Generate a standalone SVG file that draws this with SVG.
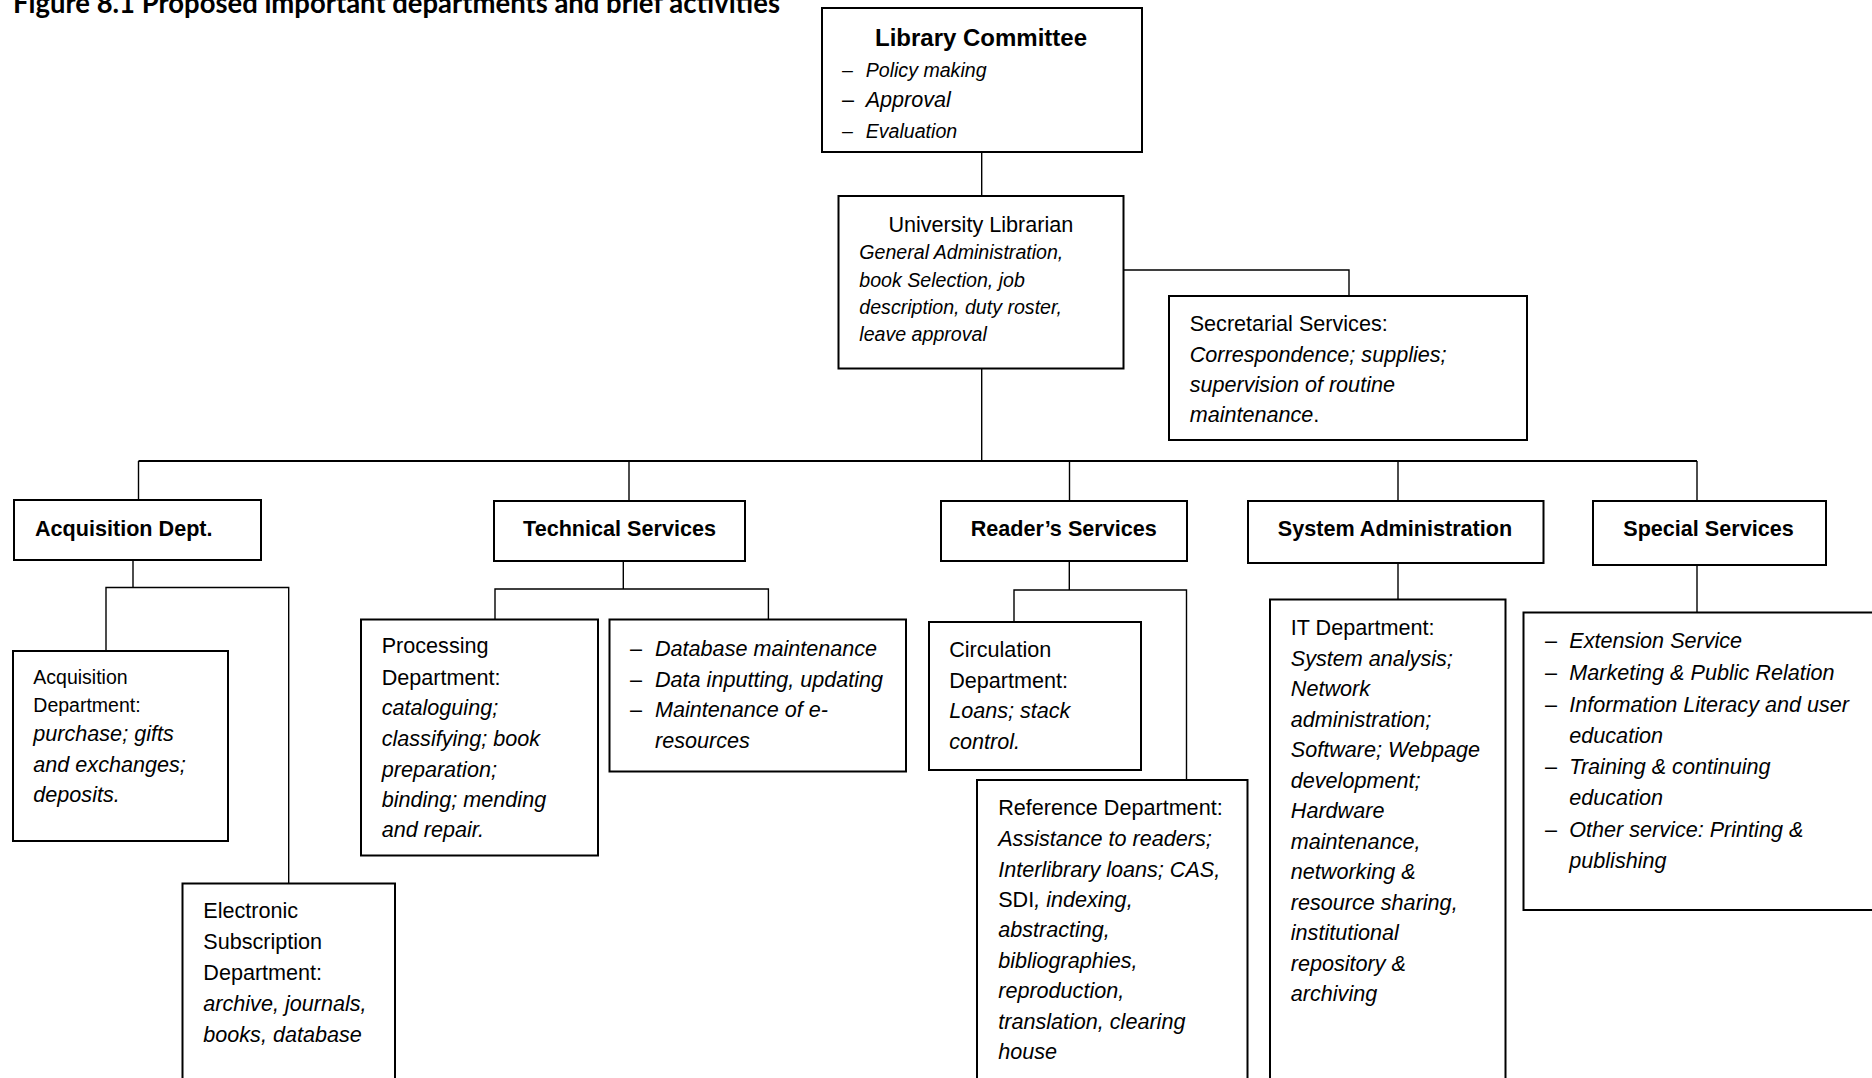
<svg xmlns="http://www.w3.org/2000/svg" width="1872" height="1078" viewBox="0 0 1872 1078">
  <style>
    .box { fill: #ffffff; stroke: #000000; stroke-width: 2; }
    .wire { fill: none; stroke: #000000; stroke-width: 1.4; }
    .bus { fill: none; stroke: #000000; stroke-width: 2.2; }
    text { font-family: "Liberation Sans", Arial, sans-serif; font-size: 21.6px; fill: #000000; }
    .i { font-style: italic; }
    .b { font-weight: bold; }
    .s { font-size: 19.6px; }
    .c { text-anchor: middle; }
    .title { font-family: Lato, "Liberation Sans", sans-serif; font-weight: bold; font-size: 28px; }
  </style>

  <rect x="0" y="0" width="1872" height="1078" fill="#ffffff"/>

  <text class="title" x="13" y="13" textLength="767" lengthAdjust="spacingAndGlyphs">Figure 8.1 Proposed important departments and brief activities</text>

  <!-- connectors -->
  <g id="connectors">
    <path class="wire" d="M981.7 152 V196"/>
    <path class="wire" d="M981.7 348 V461"/>
    <path class="wire" d="M1123 270 H1349 V296"/>
    <path class="bus" d="M138.5 461 H1697"/>
    <path class="wire" d="M138.5 461 V500"/>
    <path class="wire" d="M629 461 V501"/>
    <path class="wire" d="M1069.5 461 V501"/>
    <path class="wire" d="M1398 461 V501"/>
    <path class="wire" d="M1697 461 V501"/>
    <path class="wire" d="M133 560 V587.5"/>
    <path class="wire" d="M106 651 V587.5 H288.7 V883.5"/>
    <path class="wire" d="M623.3 561 V589"/>
    <path class="wire" d="M495 619.5 V589 H768.4 V619.5"/>
    <path class="wire" d="M1069.3 561 V590"/>
    <path class="wire" d="M1014 622 V590 H1186.5 V780"/>
    <path class="wire" d="M1398 563 V599.5"/>
    <path class="wire" d="M1697 565 V612.5"/>
  </g>

  <g id="library-committee">
    <rect class="box" x="822" y="8" width="320" height="144"/>
    <text class="b c" x="981" y="45.5" style="font-size:24px">Library Committee</text>
    <text class="s" x="842" y="76.5">–</text>
    <text class="s i" x="865.7" y="76.5">Policy making</text>
    <text x="842" y="107">–</text>
    <text class="i" x="865.7" y="107">Approval</text>
    <text class="s" x="842" y="137.5">–</text>
    <text class="s i" x="865.7" y="137.5">Evaluation</text>
  </g>

  <g id="university-librarian">
    <rect class="box" x="838.5" y="196" width="285" height="172.5"/>
    <text class="c" x="980.8" y="231.5">University Librarian</text>
    <text class="s i" x="859.3" y="259.3">General Administration,</text>
    <text class="s i" x="859.3" y="286.7">book Selection, job</text>
    <text class="s i" x="859.3" y="314">description, duty roster,</text>
    <text class="s i" x="859.3" y="341.3">leave approval</text>
  </g>

  <g id="secretarial-services">
    <rect class="box" x="1169" y="296" width="358" height="144"/>
    <text x="1189.7" y="331">Secretarial Services:</text>
    <text class="i" x="1189.7" y="361.5">Correspondence; supplies;</text>
    <text class="i" x="1189.7" y="391.5">supervision of routine</text>
    <text x="1189.7" y="421.5"><tspan class="i">maintenance</tspan>.</text>
  </g>

  <g id="acquisition-dept">
    <rect class="box" x="14" y="500" width="247" height="60"/>
    <text class="b" x="35" y="536">Acquisition Dept.</text>
  </g>

  <g id="technical-services">
    <rect class="box" x="494" y="501" width="251" height="60"/>
    <text class="b c" x="619.5" y="536">Technical Services</text>
  </g>

  <g id="readers-services">
    <rect class="box" x="941" y="501" width="246" height="60"/>
    <text class="b c" x="1063.7" y="536">Reader’s Services</text>
  </g>

  <g id="system-administration">
    <rect class="box" x="1248" y="501" width="295.5" height="62"/>
    <text class="b c" x="1395" y="536">System Administration</text>
  </g>

  <g id="special-services">
    <rect class="box" x="1593" y="501" width="233" height="64"/>
    <text class="b c" x="1708.5" y="536">Special Services</text>
  </g>

  <g id="acquisition-department">
    <rect class="box" x="13" y="651" width="215" height="190"/>
    <text x="33.3" y="684.3" style="font-size:19.5px">Acquisition</text>
    <text x="33.3" y="711.7" style="font-size:19.5px">Department:</text>
    <text class="i" x="33.3" y="741">purchase; gifts</text>
    <text class="i" x="33.3" y="771.5">and exchanges;</text>
    <text class="i" x="33.3" y="801.5">deposits.</text>
  </g>

  <g id="electronic-subscription">
    <rect class="box" x="182.5" y="883.5" width="212.5" height="220"/>
    <text x="203.3" y="918.3">Electronic</text>
    <text x="203.3" y="948.5">Subscription</text>
    <text x="203.3" y="979.5">Department:</text>
    <text class="i" x="203.3" y="1010.5">archive, journals,</text>
    <text class="i" x="203.3" y="1041.5">books, database</text>
  </g>

  <g id="processing-department">
    <rect class="box" x="361" y="619.5" width="237" height="236"/>
    <text x="381.7" y="653.3">Processing</text>
    <text x="381.7" y="684.5">Department:</text>
    <text class="i" x="381.7" y="715">cataloguing;</text>
    <text class="i" x="381.7" y="745.7">classifying; book</text>
    <text class="i" x="381.7" y="776.5">preparation;</text>
    <text class="i" x="381.7" y="806.7">binding; mending</text>
    <text class="i" x="381.7" y="837.3">and repair.</text>
  </g>

  <g id="database-tasks">
    <rect class="box" x="609.5" y="619.5" width="296.5" height="152"/>
    <text x="630" y="656">–</text>
    <text class="i" x="655" y="656">Database maintenance</text>
    <text x="630" y="686.7">–</text>
    <text class="i" x="655" y="686.7">Data inputting, updating</text>
    <text x="630" y="717.3">–</text>
    <text class="i" x="655" y="717.3">Maintenance of e-</text>
    <text class="i" x="655" y="748.3">resources</text>
  </g>

  <g id="circulation-department">
    <rect class="box" x="929" y="622" width="212" height="148"/>
    <text x="949.2" y="656.7">Circulation</text>
    <text x="949.2" y="687.5">Department:</text>
    <text class="i" x="949.2" y="717.5">Loans; stack</text>
    <text class="i" x="949.2" y="749">control.</text>
  </g>

  <g id="reference-department">
    <rect class="box" x="977" y="780" width="270.5" height="320"/>
    <text x="998.2" y="815">Reference Department:</text>
    <text class="i" x="998.2" y="846">Assistance to readers;</text>
    <text class="i" x="998.2" y="876.5">Interlibrary loans; CAS,</text>
    <text x="998.2" y="906.5">SDI<tspan class="i">, indexing,</tspan></text>
    <text class="i" x="998.2" y="937">abstracting,</text>
    <text class="i" x="998.2" y="967.5">bibliographies,</text>
    <text class="i" x="998.2" y="998">reproduction,</text>
    <text class="i" x="998.2" y="1028.5">translation, clearing</text>
    <text class="i" x="998.2" y="1059">house</text>
  </g>

  <g id="it-department">
    <rect class="box" x="1270" y="599.5" width="235.5" height="500"/>
    <text x="1290.8" y="635">IT Department:</text>
    <text class="i" x="1290.8" y="665.5">System analysis;</text>
    <text class="i" x="1290.8" y="696">Network</text>
    <text class="i" x="1290.8" y="726.5">administration;</text>
    <text class="i" x="1290.8" y="757">Software; Webpage</text>
    <text class="i" x="1290.8" y="787.5">development;</text>
    <text class="i" x="1290.8" y="818">Hardware</text>
    <text class="i" x="1290.8" y="848.5">maintenance,</text>
    <text class="i" x="1290.8" y="879">networking &amp;</text>
    <text class="i" x="1290.8" y="909.5">resource sharing,</text>
    <text class="i" x="1290.8" y="940">institutional</text>
    <text class="i" x="1290.8" y="970.5">repository &amp;</text>
    <text class="i" x="1290.8" y="1001">archiving</text>
  </g>

  <g id="special-activities">
    <rect class="box" x="1523.5" y="612.5" width="400" height="297.5"/>
    <text x="1545" y="648.3">–</text>
    <text class="i" x="1569.3" y="648.3">Extension Service</text>
    <text x="1545" y="680">–</text>
    <text class="i" x="1569.3" y="680">Marketing &amp; Public Relation</text>
    <text x="1545" y="711.5">–</text>
    <text class="i" x="1569.3" y="711.5">Information Literacy and user</text>
    <text class="i" x="1569.3" y="742.5">education</text>
    <text x="1545" y="774">–</text>
    <text class="i" x="1569.3" y="774">Training &amp; continuing</text>
    <text class="i" x="1569.3" y="805">education</text>
    <text x="1545" y="836.5">–</text>
    <text class="i" x="1569.3" y="836.5">Other service: Printing &amp;</text>
    <text class="i" x="1569.3" y="867.5">publishing</text>
  </g>
</svg>
